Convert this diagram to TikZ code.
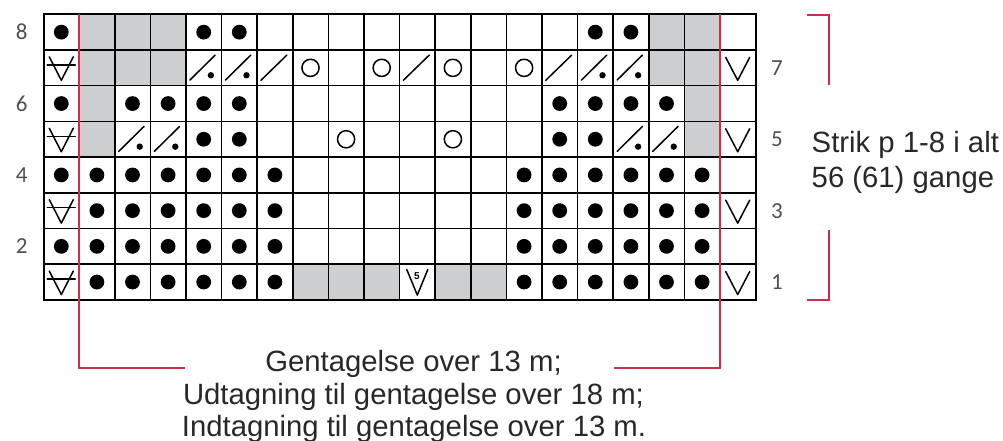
\documentclass[tikz,border=0pt]{standalone}
\usepackage{fontspec}
\setmainfont{Liberation Sans}
\newfontfamily\numfont{Carlito}
\definecolor{cellgray}{RGB}{205,206,208}
\definecolor{redline}{RGB}{206,44,72}
\definecolor{txt}{RGB}{40,40,40}
\definecolor{numgray}{RGB}{80,80,80}
\tikzset{
  gridline/.style={line width=1.6pt, black},
  borderline/.style={line width=2pt, black},
  redrule/.style={line width=2pt, redline},
  symline/.style={line width=1.5pt, black, line cap=round, line join=round},
  captext/.style={font=\fontsize{29.3}{33}\selectfont, text=txt, inner sep=0pt},
  rownum/.style={font=\numfont\fontsize{23}{23}\selectfont, text=numgray, inner sep=0pt},
  pics/dotsym/.style={code={\fill[black] (0,0) circle (7.4pt);}},
  pics/yosym/.style={code={\draw[symline] (0,0) circle (8.6pt);}},
  pics/slsym/.style={code={\draw[symline] (-14pt,-12.5pt) -- (12pt,12.8pt);}},
  pics/sldotsym/.style={code={\draw[symline] (-13.8pt,-12.2pt) -- (11.5pt,12.8pt);
      \fill[black] (7.2pt,-7.4pt) circle (3.2pt);}},
  pics/vsym/.style={code={\draw[symline] (-12pt,10.5pt) -- (0,-12.5pt) -- (12pt,10.5pt);}},
  pics/asym/.style={code={\draw[symline] (-12pt,11pt) -- (0,-12.5pt) -- (12pt,11pt);
      \draw[symline] (-14pt,3pt) -- (14pt,3pt);}},
  pics/vfivesym/.style={code={\draw[symline] (-10.5pt,12.5pt) -- (0,-13pt) -- (10.5pt,12.5pt);
      \node[font=\fontsize{10}{10}\selectfont\bfseries, inner sep=0pt] at (-0.3pt,6pt) {5};}},
}
\begin{document}
\begin{tikzpicture}[x=1pt,y=-1pt]
\useasboundingbox (0,0) rectangle (1003,441);
\fill[white] (0,0) rectangle (1003,441);

\begin{scope}[shift={(43.5,14.3)}, x=35.6pt, y=-35.7pt]
  % gray cells
  \foreach \r/\cs in {8/{2,3,4,18,19},7/{2,3,4,18,19},6/{2,19},5/{2,19},1/{8,9,10,12,13}}{
    \foreach \c in \cs {\fill[cellgray] (\c-1,8-\r) rectangle (\c,9-\r);}
  }
  % grid
  \foreach \c in {1,...,19} {\draw[gridline] (\c,0) -- (\c,8);}
  \foreach \i in {1,...,7} {\draw[gridline] (0,\i) -- (20,\i);}
  \draw[borderline] (0,0) rectangle (20,8);
  % dots
  \foreach \r/\cs in {8/{1,5,6,16,17},6/{1,3,4,5,6,15,16,17,18},5/{5,6,15,16},
      4/{1,2,3,4,5,6,7,14,15,16,17,18,19},3/{2,3,4,5,6,7,14,15,16,17,18,19},
      2/{1,2,3,4,5,6,7,14,15,16,17,18,19},1/{2,3,4,5,6,7,14,15,16,17,18,19}}{
    \foreach \c in \cs {\pic at (\c-0.5,8.5-\r) {dotsym};}
  }
  % edge symbols
  \foreach \r in {7,5,3,1} {
    \pic at (0.5,8.5-\r) {asym};
    \pic at (19.5,8.5-\r) {vsym};
  }
  % slash with dot
  \foreach \r/\cs in {7/{5,6,16,17},5/{3,4,17,18}}{
    \foreach \c in \cs {\pic at (\c-0.5,8.5-\r) {sldotsym};}
  }
  % plain slash
  \foreach \c in {7,11,15} {\pic at (\c-0.5,1.5) {slsym};}
  % yarn overs
  \foreach \r/\cs in {7/{8,10,12,14},5/{9,12}}{
    \foreach \c in \cs {\pic at (\c-0.5,8.5-\r) {yosym};}
  }
  % 5-stitch decrease
  \pic at (10.5,7.5) {vfivesym};
\end{scope}

% row numbers
\foreach \r/\yy in {8/32.2,6/103.6,4/175.0,2/246.4} {
  \node[rownum] (l\r) at (21.7,\yy) {\r};
}
\foreach \r/\yy in {7/67.9,5/139.3,3/210.7,1/282.1} {
  \node[rownum] (r\r) at (777,\yy) {\r};
}

% red repeat lines
\coordinate (rlt) at (79.1,14.3);
\coordinate (rlb) at (79.1,368.3);
\coordinate (rle) at (185,368.3);
\coordinate (rrt) at (719.9,14.3);
\coordinate (rrb) at (719.9,368.3);
\coordinate (rre) at (614,368.3);
\draw[redrule] (rlt) -- (rlb) -- (rle);
\draw[redrule] (rrt) -- (rrb) -- (rre);

% right bracket
\coordinate (bt1) at (806.7,15);
\coordinate (bt2) at (829.3,15);
\coordinate (bt3) at (829.3,85);
\coordinate (bb1) at (829.3,230);
\coordinate (bb2) at (829.3,300);
\coordinate (bb3) at (806.7,300);
\draw[redrule] (bt1) -- (bt2) -- (bt3);
\draw[redrule] (bb1) -- (bb2) -- (bb3);

% texts
\node[captext, anchor=base] (g1) at (413.5,371.5) {Gentagelse over 13 m;};
\node[captext, anchor=base] (g2) at (413.5,404) {Udtagning til gentagelse over 18 m;};
\node[captext, anchor=base] (g3) at (414,436.5) {Indtagning til gentagelse over 13 m.};
\node[captext, anchor=base west] (s1) at (811.5,152) {Strik p 1-8 i alt};
\node[captext, anchor=base west] (s2) at (811.5,187) {56 (61) gange};
\end{tikzpicture}
\end{document}
